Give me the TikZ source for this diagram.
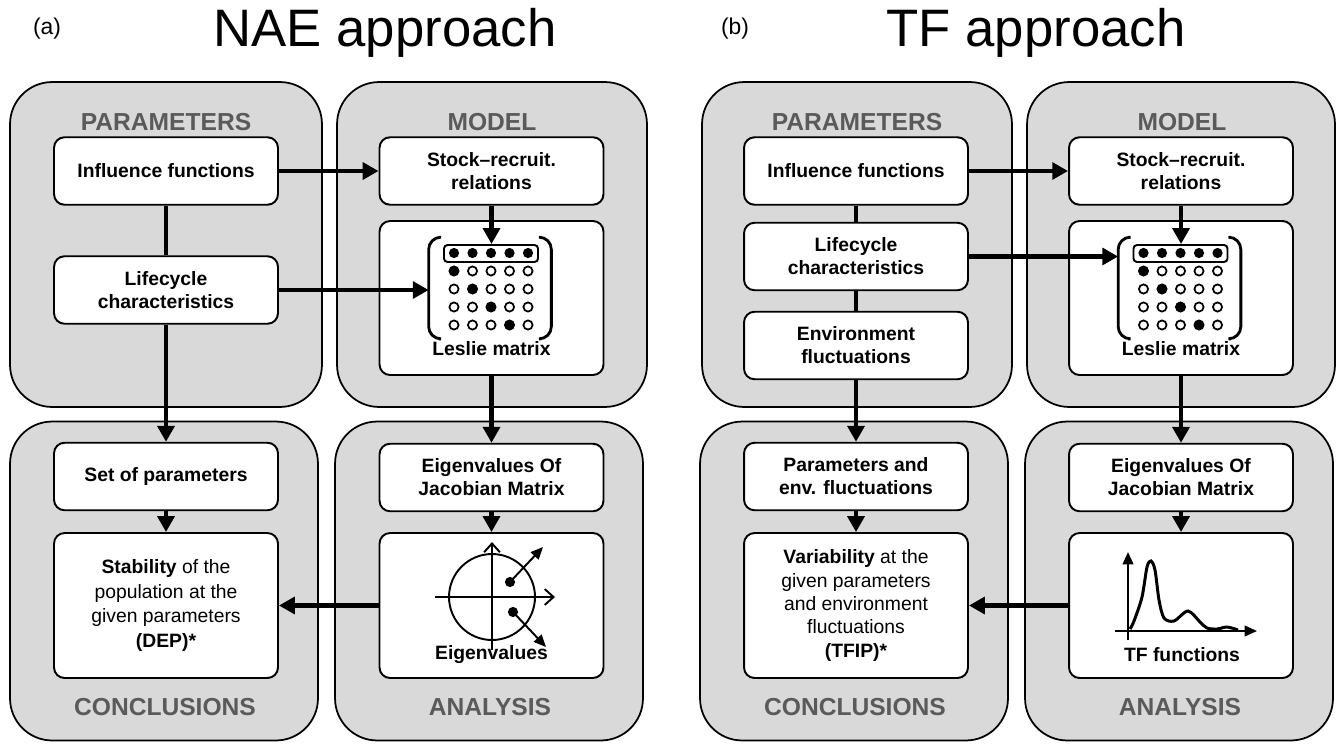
\documentclass[tikz,border=0pt]{standalone}
\usepackage{fontspec}
\setmainfont{Liberation Sans}
\usetikzlibrary{arrows.meta,calc}
\definecolor{grp}{HTML}{D9D9D9}
\definecolor{lbl}{HTML}{5A5A5A}
\tikzset{
  grpbox/.style={draw,line width=1pt,fill=grp,rounded corners=24pt,minimum height=6.5cm},
  grplbl/.style={font=\fontsize{14}{16}\selectfont\bfseries,text=lbl},
  box/.style={draw,line width=1.1pt,fill=white,rounded corners=6pt,align=center,
    font=\fontsize{11}{13}\selectfont\bfseries,minimum width=4.48cm,minimum height=1.35cm,inner sep=2pt},
  bigbox/.style={box,minimum height=2.9cm},
  capt/.style={font=\fontsize{11}{13}\selectfont\bfseries},
  ar/.style={-{Triangle[length=9pt,width=9.5pt]},line width=2.7pt},
  ln/.style={line width=2.7pt},
  brk/.style={line width=1.6pt,rounded corners=7pt},
  ttl/.style={font=\fontsize{30}{34}\selectfont},
  tag/.style={font=\fontsize{13}{15}\selectfont},
}

\begin{document}
\begin{tikzpicture}[x=0.02cm,y=-0.02cm]
  \useasboundingbox (0,0) rectangle (1338,744);

  % titles
  \node[tag] (ta) at (47,29) {(a)};
  \node[ttl] (naeT) at (385,33) {NAE approach};
  \node[tag] (tb) at (735,29) {(b)};
  \node[ttl] (tfT) at (1036,33) {TF approach};

  % ---------------- (a) NAE approach
  \node[grpbox,minimum width=6.24cm] (paA) at (166,244.5) {};
  \node[grpbox,minimum width=6.2cm] (moA) at (492,244.5) {};
  \node[grpbox,minimum width=6.16cm,minimum height=6.38cm] (coA) at (164,581) {};
  \node[grpbox,minimum width=6.16cm,minimum height=6.38cm] (anA) at (489,581) {};
  \node[grplbl] (paAl) at (166,122) {PARAMETERS};
  \node[grplbl] (moAl) at (492,122) {MODEL};
  \node[grplbl] (coAl) at (165,707) {CONCLUSIONS};
  \node[grplbl] (anAl) at (490,707) {ANALYSIS};

  \node[box] (infA) at (166,171) {Influence functions};
  \node[box] (lifA) at (166,290) {Lifecycle\\characteristics};
  \node[box] (stkA) at (491.5,171) {Stock--recruit.\\relations};
  \node[box,minimum height=3.08cm] (lesA) at (491.5,298) {};
  \node[box] (setA) at (166,476.5) {Set of parameters};
  \node[bigbox,font=\fontsize{11}{14}\selectfont] (staA) at (166,605.5)
       {\textbf{Stability} of the\\population at the\\given parameters\\\textbf{(DEP)*}};
  \node[box] (jacA) at (491.5,477.5) {Eigenvalues Of\\Jacobian Matrix};
  \node[bigbox] (eigA) at (491.5,605.5) {};

  % Leslie matrix
  \node[inner sep=0,minimum width=2.44cm,minimum height=2.02cm] (matA) at (490,288) {};
  \node[draw,line width=1.1pt,rounded corners=2pt,inner sep=0,minimum width=1.88cm,minimum height=0.34cm] (rowA) at (491,253.5) {};
  \draw[brk] ($(matA.north west)+(10,0)$) -- (matA.north west) -- (matA.south west) -- ($(matA.south west)+(10,0)$);
  \draw[brk] ($(matA.north east)+(-10,0)$) -- (matA.north east) -- (matA.south east) -- ($(matA.south east)+(-10,0)$);
  \begin{scope}[shift={(matA.center)}]
    \foreach \r in {1,...,4}
      \foreach \c in {0,...,4}
        \draw[line width=1pt,fill=white] (18.5*\c-36,18*\r-35) circle (2.6pt);
    \foreach \c in {0,...,4} \fill (18.5*\c-36,-35) circle (2.9pt);
    \foreach \c in {0,...,3} \fill (18.5*\c-36,18*\c-17) circle (2.9pt);
  \end{scope}
  \node[capt] (lesAl) at (491.5,349) {Leslie matrix};

  % eigenvalue plot
  \begin{scope}[shift={(492,597)},line width=1.1pt]
    \draw (0,0) circle (0.86cm);
    \draw[-{Straight Barb[length=5pt,width=9pt]}] (0,53) -- (0,-55);
    \draw[-{Straight Barb[length=5pt,width=9pt]}] (-57,0) -- (63,0);
    \fill (18,-15) circle (2.9pt);
    \fill (21,15) circle (2.9pt);
    \draw[-{Triangle[length=7pt,width=6pt]}] (18,-15) -- (51,-50);
    \draw[-{Triangle[length=7pt,width=6pt]}] (21,15) -- (54,50);
  \end{scope}
  \node[capt] (eigAl) at (491.5,655) {Eigenvalues};

  \draw[ar] (infA) -- (stkA);
  \draw[ln] (infA) -- (lifA);
  \draw[ar] (lifA.east) -- (lifA.east -| matA.west);
  \draw[ar] (lifA) -- (setA);
  \draw[ar] (setA) -- (staA);
  \draw[ar] (stkA.south) -- (stkA.south |- rowA.north);
  \draw[ar] (lesA) -- (jacA);
  \draw[ar] (jacA) -- (eigA);
  \draw[ar] (eigA) -- (staA);

  % ---------------- (b) TF approach
  \node[grpbox,minimum width=6.2cm] (paB) at (857,244.5) {};
  \node[grpbox,minimum width=6.16cm] (moB) at (1181,244.5) {};
  \node[grpbox,minimum width=6.16cm,minimum height=6.38cm] (coB) at (854,581) {};
  \node[grpbox,minimum width=6.16cm,minimum height=6.38cm] (anB) at (1179,581) {};
  \node[grplbl] (paBl) at (857,122) {PARAMETERS};
  \node[grplbl] (moBl) at (1182,122) {MODEL};
  \node[grplbl] (coBl) at (855,707) {CONCLUSIONS};
  \node[grplbl] (anBl) at (1180,707) {ANALYSIS};

  \node[box] (infB) at (856,171) {Influence functions};
  \node[box] (lifB) at (856,256.5) {Lifecycle\\characteristics};
  \node[box] (envB) at (856,345.5) {Environment\\fluctuations};
  \node[box] (stkB) at (1181,171) {Stock--recruit.\\relations};
  \node[box,minimum height=3.08cm] (lesB) at (1181,298) {};
  \node[box] (parB) at (856,476.5) {Parameters and\\env. fluctuations};
  \node[bigbox,font=\fontsize{11}{13.3}\selectfont] (varB) at (856,605.5)
       {\textbf{Variability} at the\\given parameters\\and environment\\fluctuations\\\textbf{(TFIP)*}};
  \node[box] (jacB) at (1181,477.5) {Eigenvalues Of\\Jacobian Matrix};
  \node[bigbox] (tfB) at (1181,605.5) {};

  % Leslie matrix
  \node[inner sep=0,minimum width=2.44cm,minimum height=2.02cm] (matB) at (1179.5,288) {};
  \node[draw,line width=1.1pt,rounded corners=2pt,inner sep=0,minimum width=1.88cm,minimum height=0.34cm] (rowB) at (1180.5,253.5) {};
  \draw[brk] ($(matB.north west)+(10,0)$) -- (matB.north west) -- (matB.south west) -- ($(matB.south west)+(10,0)$);
  \draw[brk] ($(matB.north east)+(-10,0)$) -- (matB.north east) -- (matB.south east) -- ($(matB.south east)+(-10,0)$);
  \begin{scope}[shift={(matB.center)}]
    \foreach \r in {1,...,4}
      \foreach \c in {0,...,4}
        \draw[line width=1pt,fill=white] (18.5*\c-36,18*\r-35) circle (2.6pt);
    \foreach \c in {0,...,4} \fill (18.5*\c-36,-35) circle (2.9pt);
    \foreach \c in {0,...,3} \fill (18.5*\c-36,18*\c-17) circle (2.9pt);
  \end{scope}
  \node[capt] (lesBl) at (1181,349) {Leslie matrix};

  % TF plot
  \draw[line width=1.2pt,-{Triangle[length=7pt,width=6pt]}] (1128,640) -- (1128,552);
  \draw[line width=1.2pt,-{Triangle[length=7pt,width=6pt]}] (1115,631) -- (1257,631);
  \draw[line width=1.7pt] plot[smooth,tension=0.5] coordinates {(1130,629) (1134,621) (1142,597)
    (1147,567) (1151,561) (1155,570) (1159,600) (1164,618) (1174,621) (1188,611) (1200,622)
    (1207,628) (1217,629) (1227,627) (1238,630)};
  \node[capt] (tfBl) at (1182,655) {TF functions};

  \draw[ar] (infB) -- (stkB);
  \draw[ln] (infB) -- (lifB);
  \draw[ln] (lifB) -- (envB);
  \draw[ar] (lifB.east) -- (lifB.east -| matB.west);
  \draw[ar] (envB) -- (parB);
  \draw[ar] (parB) -- (varB);
  \draw[ar] (stkB.south) -- (stkB.south |- rowB.north);
  \draw[ar] (lesB) -- (jacB);
  \draw[ar] (jacB) -- (tfB);
  \draw[ar] (tfB) -- (varB);
\end{tikzpicture}
\end{document}
